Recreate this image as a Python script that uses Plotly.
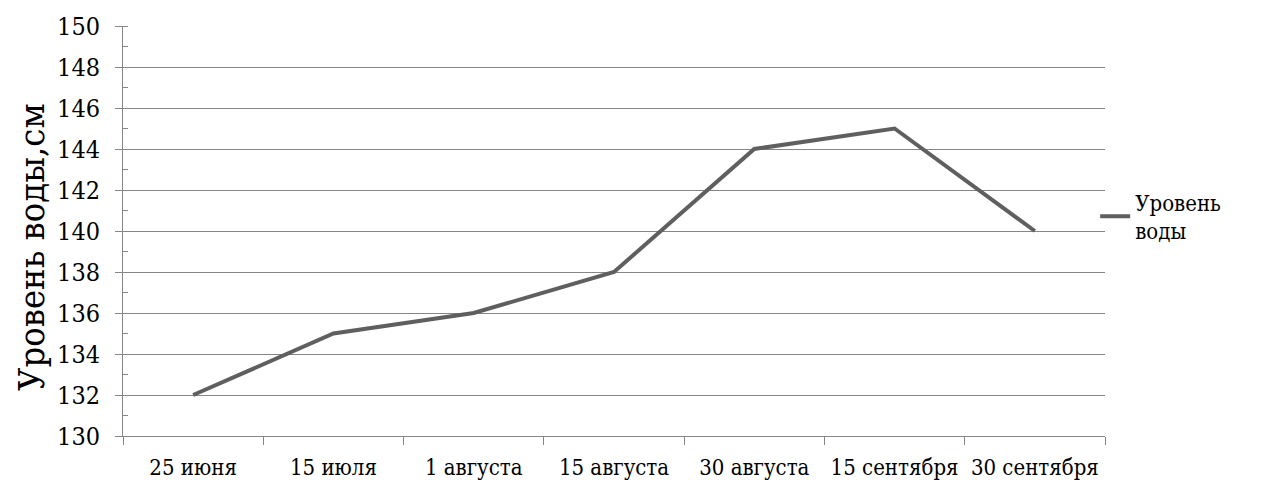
import plotly.graph_objects as go

dates = ["25 июня", "15 июля", "1 августа", "15 августа", "30 августа",
         "15 сентября", "30 сентября"]
water_level = [132, 135, 136, 138, 144, 145, 140]
series_name = "Уровень<br>воды"
y_title = "Уровень воды,см"

FONT = "DejaVu Serif Condensed, DejaVu Serif"
GRID = "#868686"

fig = go.Figure()
fig.add_trace(go.Scatter(
    x=dates, y=water_level, mode="lines", name=series_name,
    line=dict(color="#5f5f5f", width=4),
))

W, H = 1261, 492
L, R, T, B = 123, 156, 26, 54

fig.update_layout(
    width=W, height=H,
    margin=dict(l=L, r=R, t=T, b=B),
    paper_bgcolor="white", plot_bgcolor="white",
    font=dict(family=FONT, color="black"),
    showlegend=True,
    legend=dict(x=0.99, xanchor="left", y=(H - B - 182) / (H - T - B),
                yanchor="top", font=dict(size=22, family=FONT),
                bgcolor="rgba(0,0,0,0)", itemwidth=30,
                tracegroupgap=0),
    xaxis=dict(
        type="category", range=[-0.5, 6.5],
        showline=True, linecolor=GRID, linewidth=1,
        ticks="outside", tickson="boundaries", ticklen=8,
        tickcolor=GRID, showgrid=False, tickangle=0,
        tickfont=dict(size=22, family=FONT),
        ticklabelstandoff=12,
    ),
    yaxis=dict(
        range=[130, 150], dtick=2, tick0=130,
        showline=True, linecolor=GRID, linewidth=1,
        ticks="outside", ticklen=7, tickcolor=GRID,
        showgrid=True, gridcolor=GRID, gridwidth=1,
        zeroline=False,
        tickfont=dict(size=25, family=FONT),
        ticklabelstandoff=10,
        minor=dict(dtick=1, ticks="inside", ticklen=5, tickcolor=GRID,
                   showgrid=False),
    ),
)

fig.add_annotation(
    text=y_title, textangle=-90, showarrow=False,
    xref="paper", yref="paper",
    x=(32 - L) / (W - L - R), y=(H - B - 248) / (H - T - B),
    xanchor="center", yanchor="middle",
    font=dict(size=36, family=FONT, color="black"),
)

fig.write_html("out.html")
